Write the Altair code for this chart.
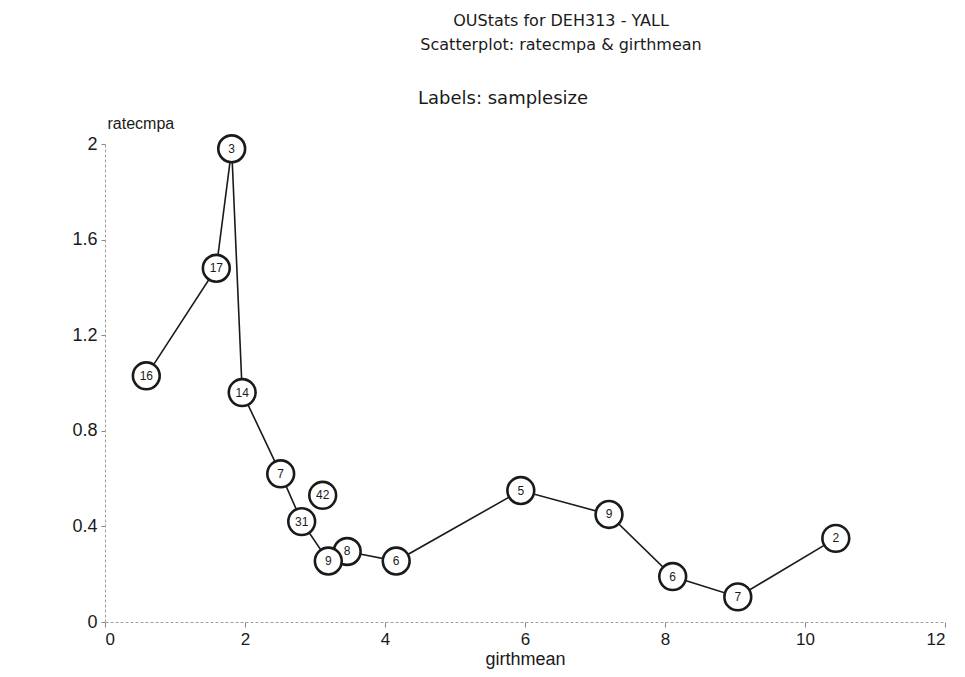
import altair as alt
import pandas as pd

# data (rows listed in drawing order; "seq" gives the path order)
girthmean = [0.59, 1.59, 1.81, 1.96, 2.51, 2.81, 3.46, 3.19, 4.16, 5.94, 7.20, 8.11, 9.04, 10.44, 3.11]
ratecmpa = [1.03, 1.48, 1.98, 0.96, 0.62, 0.42, 0.295, 0.255, 0.255, 0.55, 0.45, 0.19, 0.105, 0.35, 0.53]
samplesize = ["16", "17", "3", "14", "7", "31", "8", "9", "6", "5", "9", "6", "7", "2", "42"]
path_order = [1, 2, 3, 4, 5, 6, 8, 7, 9, 10, 11, 12, 13, 14, None]

title_lines = ["OUStats for DEH313 - YALL", "Scatterplot: ratecmpa & girthmean"]
label_note = ["Labels: samplesize"]

df = pd.DataFrame({
    "girthmean": girthmean,
    "ratecmpa": ratecmpa,
    "samplesize": samplesize,
    "seq": path_order,
})
line_df = df[df["seq"].notna()]
note_df = pd.DataFrame({"note": label_note})

FONT = "Liberation Sans"
TFONT = "DejaVu Sans"
INK = "#1a1a1a"

xscale = alt.Scale(domain=[0, 12], nice=False, zero=True)
yscale = alt.Scale(domain=[0, 2], nice=False, zero=True)

xaxis = alt.Axis(
    values=[0, 2, 4, 6, 8, 10, 12], format="~g", grid=False,
    domainColor="#a0a0a0", domainDash=[3, 2], domainWidth=1,
    tickColor="#888888", tickSize=5, labelFontSize=17, labelColor=INK,
    labelFont=FONT, labelPadding=4, title="girthmean", titleFont=FONT,
    titleFontSize=18, titleFontWeight="normal", titleColor=INK, titlePadding=3,
)
yaxis = alt.Axis(
    values=[0, 0.4, 0.8, 1.2, 1.6, 2], format="~g", grid=False,
    domainColor="#a0a0a0", domainDash=[3, 2], domainWidth=1,
    tickColor="#888888", tickSize=4, labelFontSize=18, labelColor=INK,
    labelFont=FONT, labelPadding=4, title="ratecmpa", titleFont=FONT,
    titleFontSize=16, titleFontWeight="normal", titleColor=INK,
    titleAngle=0, titleAlign="left", titleBaseline="bottom", titleX=2, titleY=-13,
)

lines = alt.Chart(line_df).mark_line(color=INK, strokeWidth=1.6).encode(
    x=alt.X("girthmean:Q", scale=xscale, axis=xaxis),
    y=alt.Y("ratecmpa:Q", scale=yscale, axis=yaxis),
    order="seq:Q",
)

circles = alt.Chart(df).mark_point(shape="circle", filled=False, size=720, strokeWidth=2.6,
                                   color=INK, fill="white", fillOpacity=1, opacity=1).encode(
    x=alt.X("girthmean:Q", scale=xscale),
    y=alt.Y("ratecmpa:Q", scale=yscale),
)

labels = alt.Chart(df).mark_text(font=FONT, fontSize=12, color=INK, baseline="middle", align="center").encode(
    x=alt.X("girthmean:Q", scale=xscale),
    y=alt.Y("ratecmpa:Q", scale=yscale),
    text="samplesize:N",
)

note = alt.Chart(note_df).mark_text(font=TFONT, fontSize=18, color=INK, align="left",
                                    baseline="alphabetic").encode(
    x=alt.value(313), y=alt.value(-40), text="note:N",
)

chart = alt.layer(lines, circles, labels, note).properties(
    width=840,
    height=478,
    padding={"left": 97, "top": 136, "right": 12, "bottom": 47},
    autosize=alt.AutoSizeParams(type="none"),
    title=alt.TitleParams(
        text=title_lines,
        anchor="middle", frame="group", dx=36,
        font=TFONT, fontSize=16, fontWeight="normal", color=INK, lineHeight=24,
        offset=37,
    ),
).configure_view(stroke=None)

chart.save("out.html", embed_options={"renderer": "svg", "actions": False})
